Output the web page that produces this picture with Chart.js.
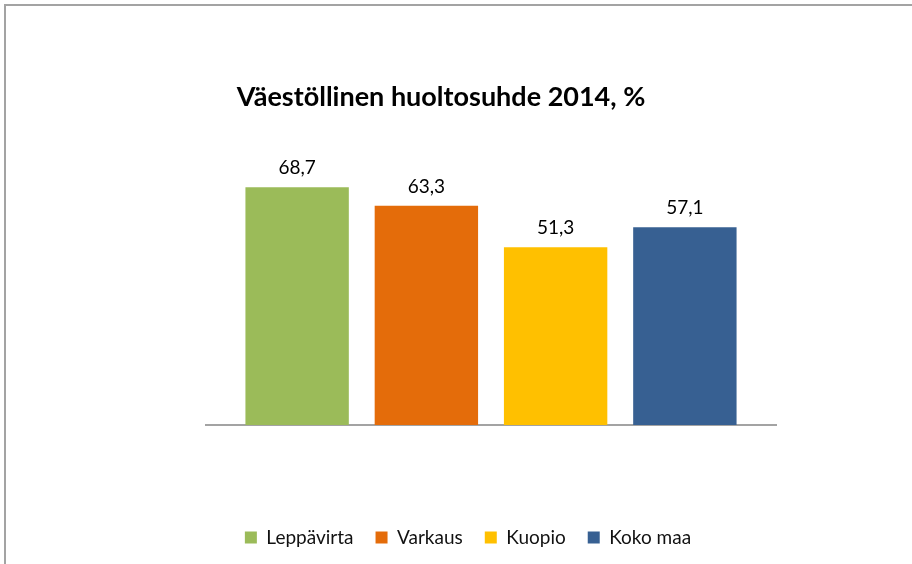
<!DOCTYPE html>
<html>
<head>
<meta charset="utf-8">
<script src="https://cdn.jsdelivr.net/npm/chart.js@4/dist/chart.umd.min.js"></script>
<style>
  html, body { margin: 0; padding: 0; background: #ffffff; overflow: hidden; }
  #wrap { position: relative; width: 912px; height: 564px; }
  #frame { position: absolute; left: 4px; top: 4px; width: 2000px; height: 2000px;
           border-left: 2px solid #a3a3a3; border-top: 2px solid #a3a3a3; }
  canvas { position: absolute; left: 0; top: 0; }
</style>
</head>
<body>
<div id="wrap">
  <div id="frame"></div>
  <canvas id="c" width="912" height="564"></canvas>
</div>
<script>
// ---- data ----
const titleText = 'Väestöllinen huoltosuhde 2014, %';
const categories = [''];
const seriesNames = ['Leppävirta', 'Varkaus', 'Kuopio', 'Koko maa'];
const leppavirta = [68.7];
const varkaus = [63.3];
const kuopio = [51.3];
const kokoMaa = [57.1];
const seriesColors = ['#9BBB59', '#E46C0A', '#FFC000', '#376092'];

const seriesValues = [leppavirta, varkaus, kuopio, kokoMaa];

const fmt = v => v.toFixed(1).replace('.', ',');

const valueLabels = {
  id: 'valueLabels',
  afterDatasetsDraw(chart) {
    const ctx = chart.ctx;
    ctx.save();
    ctx.font = '19px Lato';
    ctx.fillStyle = '#000000';
    ctx.textAlign = 'center';
    ctx.textBaseline = 'alphabetic';
    chart.data.datasets.forEach((ds, i) => {
      const meta = chart.getDatasetMeta(i);
      meta.data.forEach((el, j) => {
        ctx.fillText(fmt(ds.data[j]), el.x, el.y - 13);
      });
    });
    ctx.restore();
  }
};

const shiftBlocks = {
  id: 'shiftBlocks',
  afterLayout(chart) {
    const t = chart.titleBlock;
    if (t) { t.left -= 50; t.right -= 50; }
    const l = chart.legend;
    if (l) { l.left -= 23; l.right -= 23; }
  }
};

new Chart(document.getElementById('c'), {
  type: 'bar',
  data: {
    labels: categories,
    datasets: seriesNames.map((name, i) => ({
      label: name,
      data: seriesValues[i],
      backgroundColor: seriesColors[i],
      borderWidth: 0
    }))
  },
  options: {
    responsive: false,
    animation: false,
    devicePixelRatio: 1,
    categoryPercentage: 0.907,
    barPercentage: 0.8,
    layout: { padding: { left: 206, right: 136, top: 0, bottom: 7 } },
    scales: {
      x: {
        grid: { display: false, drawTicks: false },
        border: { display: true, color: '#a3a3a3', width: 2 },
        ticks: { display: false },
        afterFit: (scale) => { scale.height = 81; }
      },
      y: {
        display: false,
        min: 0,
        max: 80
      }
    },
    plugins: {
      title: {
        display: true,
        text: titleText,
        color: '#000000',
        font: { family: 'Lato', size: 27, weight: 'bold' },
        padding: { top: 81, bottom: 34.6 }
      },
      legend: {
        display: true,
        position: 'bottom',
        labels: {
          color: '#111111',
          font: { family: 'Lato', size: 19 },
          boxWidth: 12,
          boxHeight: 12,
          padding: 22
        }
      },
      tooltip: { enabled: false }
    }
  },
  plugins: [valueLabels, shiftBlocks]
});
</script>
</body>
</html>
